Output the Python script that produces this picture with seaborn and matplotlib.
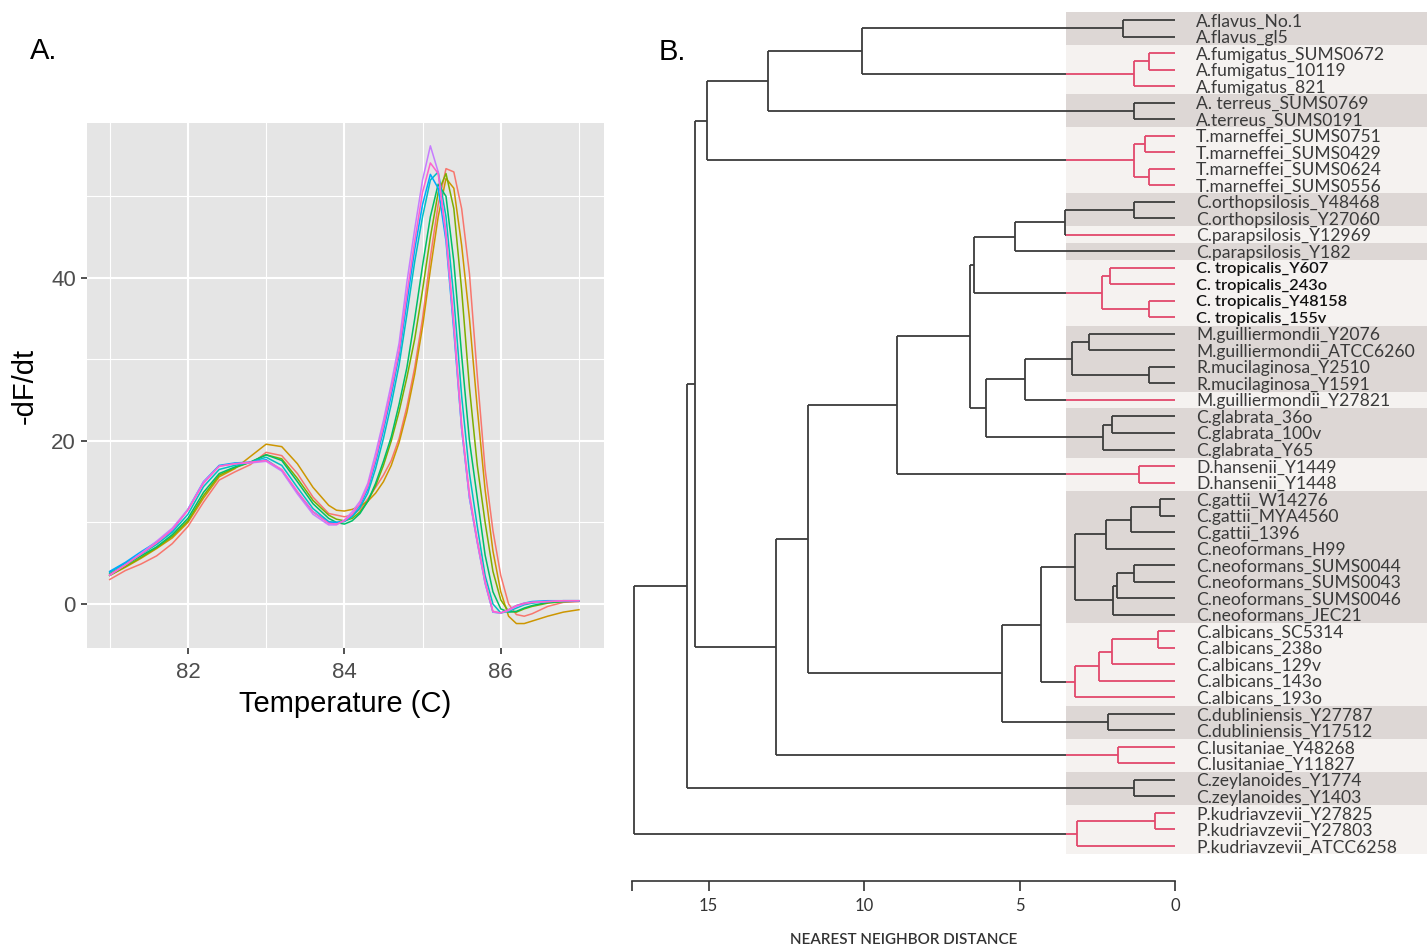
import numpy as np
import pandas as pd
import matplotlib
matplotlib.use("Agg")
import matplotlib.pyplot as plt
import seaborn as sns
from matplotlib.patches import Rectangle

plt.rcParams['font.family'] = ['Liberation Sans', 'DejaVu Sans']

# ---------------- Panel A data : melt curves ----------------
temperature = [81.0, 81.2, 81.4, 81.6, 81.8, 82.0, 82.2, 82.4, 82.6, 82.8, 83.0, 83.2, 83.4, 83.6, 83.8,
               83.9, 84.0, 84.1, 84.2, 84.3, 84.4, 84.5, 84.6, 84.7, 84.8, 84.9, 85.0, 85.1, 85.2,
               85.3, 85.4, 85.5, 85.6, 85.7, 85.8, 85.9, 86.0, 86.1, 86.2, 86.3, 86.4,
               86.6, 86.8, 87.0]

curve_red = [3.0, 4.1, 4.9, 5.9, 7.4, 9.5, 12.5, 15.2, 16.2, 17.1, 18.6, 18.2, 16.0, 13.1, 11.1,
             10.9, 10.7, 10.9, 11.6, 12.9, 14.3, 15.8, 17.6, 20.3, 24.2, 29.0, 35.0, 42.5, 49.0,
             53.4, 53.0, 48.5, 40.5, 28.0, 16.5, 9.0, 3.5, 0.0, -1.3, -1.5, -1.2,
             -0.3, 0.2, 0.3]
curve_brown = [3.5, 4.5, 5.6, 6.8, 8.1, 10.0, 13.0, 15.6, 16.6, 18.1, 19.6, 19.3, 17.2, 14.3, 12.1,
               11.5, 11.4, 11.6, 12.0, 12.6, 13.6, 15.0, 17.0, 19.8, 23.5, 28.2, 34.0, 41.0, 47.5,
               52.2, 51.0, 44.0, 35.0, 24.0, 14.0, 6.5, 1.5, -1.5, -2.4, -2.4, -2.1,
               -1.5, -1.0, -0.7]
curve_olive = [3.5, 4.6, 5.7, 6.9, 8.3, 10.2, 13.3, 15.8, 16.7, 17.4, 18.3, 17.8, 15.4, 12.7, 10.9,
               10.4, 10.2, 10.5, 11.3, 12.6, 14.5, 17.0, 20.0, 23.6, 27.8, 32.5, 38.5, 45.0, 50.5,
               52.8, 48.5, 38.5, 26.5, 17.0, 10.0, 4.0, 0.5, -0.9, -1.0, -0.6, -0.3,
               0.1, 0.3, 0.35]
curve_green = [3.7, 4.8, 5.9, 7.0, 8.5, 10.5, 13.7, 16.0, 16.8, 17.4, 18.3, 17.6, 15.0, 12.3, 10.5,
               10.0, 9.8, 10.2, 11.1, 12.6, 14.8, 17.5, 20.5, 24.5, 29.0, 35.0, 41.5, 47.5, 51.5,
               50.0, 42.0, 30.5, 20.0, 13.0, 6.0, 1.5, -0.6, -1.0, -0.9, -0.5, -0.2,
               0.2, 0.3, 0.35]
curve_cyan = [3.9, 5.0, 6.1, 7.3, 8.8, 11.0, 14.4, 16.5, 17.0, 17.4, 18.0, 17.0, 14.3, 11.7, 10.1,
              10.0, 10.1, 10.7, 11.8, 13.6, 16.6, 20.3, 24.5, 29.3, 35.5, 42.0, 47.5, 52.0, 53.0,
              47.5, 37.5, 25.5, 16.0, 9.5, 3.5, 0.0, -1.1, -0.9, -0.5, -0.1, 0.1,
              0.3, 0.4, 0.4]
curve_blue = [4.0, 5.1, 6.4, 7.6, 9.0, 11.6, 15.0, 17.0, 17.3, 17.4, 17.7, 16.4, 13.7, 11.3, 10.0,
              10.0, 10.2, 10.9, 12.1, 14.1, 17.4, 21.3, 25.6, 30.5, 37.0, 43.5, 49.0, 52.7, 51.0,
              44.5, 33.5, 21.5, 13.0, 7.6, 2.6, -1.0, -1.1, -0.7, -0.2, 0.1, 0.3,
              0.4, 0.4, 0.4]
curve_purple = [3.5, 4.8, 6.2, 7.7, 9.3, 11.6, 15.0, 16.9, 17.2, 17.3, 17.5, 16.3, 13.5, 11.0, 9.7,
                9.7, 10.3, 11.3, 12.6, 14.8, 18.5, 22.5, 27.0, 32.0, 39.5, 46.0, 52.0, 56.2, 53.0,
                45.0, 34.0, 21.5, 13.0, 7.5, 2.5, -1.0, -1.1, -0.8, -0.3, 0.0, 0.2,
                0.3, 0.4, 0.4]
curve_pink = [3.6, 4.8, 6.1, 7.5, 9.1, 11.5, 14.8, 16.9, 17.2, 17.4, 17.6, 16.5, 13.8, 11.3, 9.9,
              9.8, 10.2, 11.0, 12.3, 14.4, 17.8, 21.8, 26.2, 31.0, 38.0, 44.5, 50.5, 54.1, 52.8,
              45.5, 34.5, 22.0, 13.5, 7.8, 2.8, -0.9, -1.1, -0.7, -0.2, 0.1, 0.2,
              0.3, 0.4, 0.4]

sample_names = ["s1", "s2", "s3", "s4", "s5", "s6", "s7", "s8"]
sample_curves = [curve_red, curve_brown, curve_olive, curve_green,
                 curve_cyan, curve_blue, curve_purple, curve_pink]
sample_colors = ["#F8766D", "#CD9600", "#7CAE00", "#00BE67",
                 "#00BFC4", "#00A9FF", "#C77CFF", "#FF61CC"]

# ---------------- Panel B data : dendrogram ----------------
leaf_names = [
    "A.flavus_No.1", "A.flavus_gl5", "A.fumigatus_SUMS0672", "A.fumigatus_10119",
    "A.fumigatus_821", "A. terreus_SUMS0769", "A.terreus_SUMS0191", "T.marneffei_SUMS0751",
    "T.marneffei_SUMS0429", "T.marneffei_SUMS0624", "T.marneffei_SUMS0556",
    "C.orthopsilosis_Y48468", "C.orthopsilosis_Y27060", "C.parapsilosis_Y12969",
    "C.parapsilosis_Y182", "C. tropicalis_Y607", "C. tropicalis_243o", "C. tropicalis_Y48158",
    "C. tropicalis_155v", "M.guilliermondii_Y2076", "M.guilliermondii_ATCC6260",
    "R.mucilaginosa_Y2510", "R.mucilaginosa_Y1591", "M.guilliermondii_Y27821",
    "C.glabrata_36o", "C.glabrata_100v", "C.glabrata_Y65", "D.hansenii_Y1449",
    "D.hansenii_Y1448", "C.gattii_W14276", "C.gattii_MYA4560", "C.gattii_1396",
    "C.neoformans_H99", "C.neoformans_SUMS0044", "C.neoformans_SUMS0043",
    "C.neoformans_SUMS0046", "C.neoformans_JEC21", "C.albicans_SC5314", "C.albicans_238o",
    "C.albicans_129v", "C.albicans_143o", "C.albicans_193o", "C.dubliniensis_Y27787",
    "C.dubliniensis_Y17512", "C.lusitaniae_Y48268", "C.lusitaniae_Y11827",
    "C.zeylanoides_Y1774", "C.zeylanoides_Y1403", "P.kudriavzevii_Y27825",
    "P.kudriavzevii_Y27803", "P.kudriavzevii_ATCC6258"]

# species groups (first leaf, last leaf, highlighted)
species_groups = [(1, 2, False), (3, 5, True), (6, 7, False), (8, 11, True), (12, 13, False),
                  (14, 14, True), (15, 15, False), (16, 19, True), (20, 23, False),
                  (24, 24, True), (25, 27, False), (28, 29, True), (30, 37, False),
                  (38, 42, True), (43, 44, False), (45, 46, True), (47, 48, False),
                  (49, 51, True)]

# merge heights (nearest neighbor distance); leaves are 1-based indices
fumigatus = (1.32, (0.83, 3, 4), 5)
marneffei = (1.32, (0.96, 8, 9), (0.83, 10, 11))
top_clade = (15.06, (13.1, (10.06, (1.68, 1, 2), fumigatus), (1.32, 6, 7)), marneffei)
parapsilosis = (5.16, (3.55, (1.32, 12, 13), 14), 15)
tropicalis = (2.34, (2.1, 16, 17), (0.83, 18, 19))
guilliermondii = (4.82, (3.3, (2.76, 20, 21), (0.83, 22, 23)), 24)
glabrata = (2.33, (2.02, 25, 26), 27)
cryptococcus = (3.22, (2.23, (1.42, (0.48, 30, 31), 32), 33),
                (2.0, (1.88, (1.32, 34, 35), 36), 37))
albicans = (3.22, (2.44, (2.03, (0.56, 38, 39), 40), 41), 42)
candida_a = (8.95, (6.59, (6.45, parapsilosis, tropicalis), (6.09, guilliermondii, glabrata)),
             (1.17, 28, 29))
candida_b = (5.56, (4.32, cryptococcus, albicans), (2.16, 43, 44))
tree = (17.4,
        (15.68, (15.45, top_clade, (12.83, (11.8, candida_a, candida_b), (1.85, 45, 46))),
         (1.32, 47, 48)),
        (3.14, (0.64, 49, 50), 51))

distance_ticks = [15, 10, 5, 0]

# ---------------- Figure ----------------
W, H = 1427, 947
fig = plt.figure(figsize=(W / 100, H / 100), dpi=100)

# ---- Panel A ----
df = pd.DataFrame({
    "Temperature": np.tile(temperature, len(sample_names)),
    "dF": np.concatenate(sample_curves),
    "sample": np.repeat(sample_names, len(temperature)),
})
axA = fig.add_axes([87 / W, 1 - 648 / H, 517 / W, 525 / H])
axA.set_facecolor("#E5E5E5")
sns.lineplot(data=df, x="Temperature", y="dF", hue="sample", hue_order=sample_names,
             palette=sample_colors, legend=False, ax=axA, linewidth=1.1, errorbar=None)
axA.set_xlim(80.71, 87.32)
axA.set_ylim(-5.4, 59.0)
axA.set_xticks([82, 84, 86])
axA.set_yticks([0, 20, 40])
axA.set_xticks([81, 83, 85, 87], minor=True)
axA.set_yticks([10, 30, 50], minor=True)
axA.grid(which="major", color="white", linewidth=1.5)
axA.grid(which="minor", color="white", linewidth=0.8)
axA.set_axisbelow(True)
for s in axA.spines.values():
    s.set_visible(False)
axA.tick_params(which="major", length=4, width=1.2, color="#333333",
                labelsize=16, labelcolor="#4D4D4D", pad=4)
axA.tick_params(axis="x", which="major", pad=6)
axA.tick_params(which="minor", length=0)
axA.set_xlabel("Temperature (C)", fontsize=21, color="black", labelpad=5)
axA.set_ylabel("-dF/dt", fontsize=21, color="black", labelpad=9)

fig.text(30 / W, 1 - 51 / H, "A.", fontsize=21, va="center", ha="left")
fig.text(659 / W, 1 - 52 / H, "B.", fontsize=21, va="center", ha="left")

# ---- Panel B ----
DARK = "#3c3c3c"
RED = "#E2486C"
BAND_DARK = "#DDD7D5"
BAND_LIGHT = "#F5F2F0"
band_edge = 3.5
d_left, d_right = 17.46, -8.1

axB = fig.add_axes([632 / W, 1 - 881 / H, (W - 632) / W, (881 - 11.74) / H])
axB.set_xlim(d_left, d_right)
axB.set_ylim(53.12, 0.5)
axB.set_facecolor("none")

for first, last, hl in species_groups:
    axB.add_patch(Rectangle((band_edge, first - 0.5), d_right - band_edge, last - first + 1,
                            facecolor=BAND_LIGHT if hl else BAND_DARK, edgecolor="none",
                            zorder=0))

red_sets = {frozenset(range(f, l + 1)) for f, l, hl in species_groups if hl}


def leaves(node):
    if isinstance(node, int):
        return [node]
    return leaves(node[1]) + leaves(node[2])


def pos(node):
    if isinstance(node, int):
        return 0.0, float(node)
    return node[0], (pos(node[1])[1] + pos(node[2])[1]) / 2


LW = 1.3


def draw(node, red):
    if isinstance(node, int):
        return
    h, a, b = node
    col = RED if red else DARK
    ya, yb = pos(a)[1], pos(b)[1]
    axB.plot([h, h], [ya, yb], color=col, lw=LW, solid_capstyle="butt", zorder=2)
    for child, yc in ((a, ya), (b, yb)):
        hc = pos(child)[0]
        child_red = red or frozenset(leaves(child)) in red_sets
        if child_red and not red:
            axB.plot([h, band_edge], [yc, yc], color=DARK, lw=LW, solid_capstyle="butt", zorder=2)
            axB.plot([band_edge, hc], [yc, yc], color=RED, lw=LW, solid_capstyle="butt", zorder=2)
        else:
            axB.plot([h, hc], [yc, yc], color=RED if child_red else col, lw=LW,
                     solid_capstyle="butt", zorder=2)
        draw(child, child_red)


draw(tree, False)

for i, name in enumerate(leaf_names, start=1):
    trop = name.startswith("C. tropicalis")
    axB.text(-0.68, i, name, va="center_baseline", ha="left", fontsize=11.8 if trop else 12.6,
             family=["Lato", "DejaVu Sans"], color="#111111" if trop else "#3a3a3a",
             fontweight="semibold" if trop else "normal")

for side in ["top", "right", "left"]:
    axB.spines[side].set_visible(False)
axB.spines["bottom"].set_bounds(0, d_left)
axB.spines["bottom"].set_color("#333333")
axB.spines["bottom"].set_linewidth(1.2)
axB.set_yticks([])
axB.set_xticks([d_left] + distance_ticks)
axB.set_xticklabels([""] + [str(t) for t in distance_ticks],
                    family=["Lato", "DejaVu Sans"], fontsize=12, color="#333333")
axB.tick_params(axis="x", length=7.5, width=1.2, color="#333333", pad=5)
axB.set_xlabel("NEAREST NEIGHBOR DISTANCE", family=["Lato", "DejaVu Sans"], fontsize=11,
               fontweight="semibold", color="#333333")
axB.xaxis.set_label_coords((d_left / 2 - d_left) / (d_right - d_left), -0.060)

fig.savefig("out.png", dpi=100)
